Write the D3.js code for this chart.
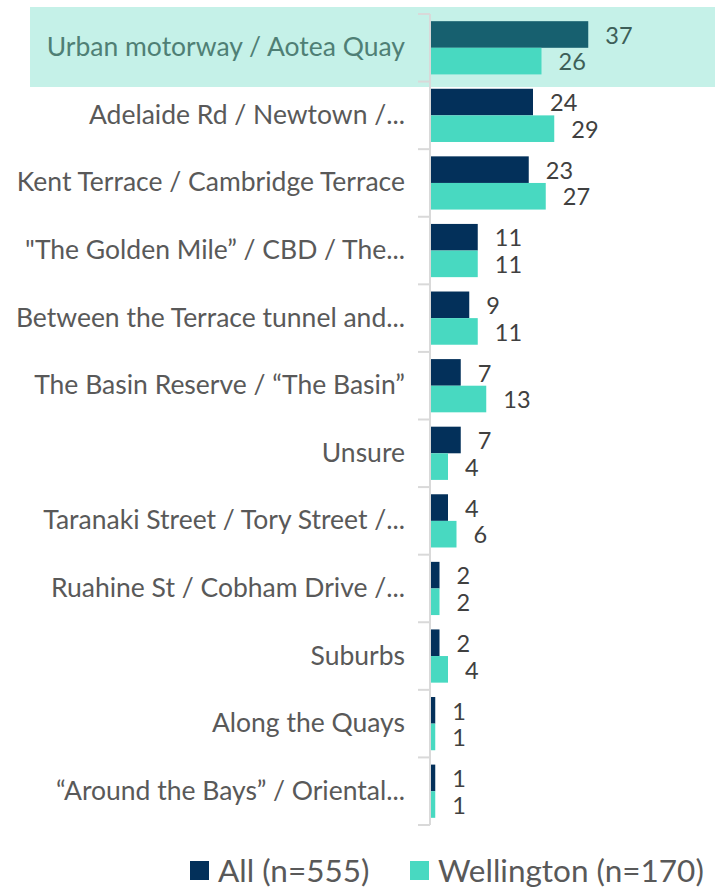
<!DOCTYPE html>
<html>
<head>
<meta charset="utf-8">
<script src="https://cdn.jsdelivr.net/npm/d3@7"></script>
<style>
  body { margin: 0; background: #fff; }
  svg { display: block; font-family: Lato, "Open Sans", sans-serif; }
</style>
</head>
<body>
<div id="chart"></div>
<script>
var width = 715;
var height = 888;

// categories, top to bottom
var categories = [
  "Urban motorway / Aotea Quay",
  "Adelaide Rd / Newtown /...",
  "Kent Terrace / Cambridge Terrace",
  "\"The Golden Mile\u201d / CBD / The...",
  "Between the Terrace tunnel and...",
  "The Basin Reserve / \u201cThe Basin\u201d",
  "Unsure",
  "Taranaki Street / Tory Street /...",
  "Ruahine St / Cobham Drive /...",
  "Suburbs",
  "Along the Quays",
  "\u201cAround the Bays\u201d / Oriental..."
];
var seriesNames = ["All (n=555)", "Wellington (n=170)"];
var allValues = [37, 24, 23, 11, 9, 7, 7, 4, 2, 2, 1, 1];
var wellingtonValues = [26, 29, 27, 11, 11, 13, 4, 6, 2, 4, 1, 1];
var highlighted = 0; // row with the mint box

var colors = ["#03305a", "#48d9c1"];

var svg = d3.select("#chart").append("svg")
  .attr("width", width)
  .attr("height", height);

var y = d3.scaleBand().domain(d3.range(categories.length)).range([14, 825]);
var ySub = d3.scaleBand().domain([0, 1]).range([0, y.bandwidth()]).paddingOuter(0.27);
var x = d3.scaleLinear().domain([0, 40]).range([431, 601]);

// highlight box behind first row
svg.append("rect")
  .attr("x", 30).attr("y", 7)
  .attr("width", width - 30).attr("height", 80)
  .attr("fill", "#c5f1e8");

var rows = categories.map(function(c, i){
  return {cat: c, i: i, vals: [allValues[i], wellingtonValues[i]]};
});

var g = svg.selectAll("g.row").data(rows).enter().append("g")
  .attr("class", "row")
  .attr("transform", d => "translate(0," + y(d.i) + ")");

g.selectAll("rect.bar").data(d => d.vals.map((v, s) => ({v: v, s: s, i: d.i})))
  .enter().append("rect")
  .attr("class", "bar")
  .attr("x", x(0))
  .attr("y", d => ySub(d.s))
  .attr("width", d => x(d.v) - x(0))
  .attr("height", ySub.bandwidth())
  .attr("fill", d => (d.i === highlighted && d.s === 0) ? "#17606f" : colors[d.s]);

g.selectAll("text.val").data(d => d.vals.map((v, s) => ({v: v, s: s, i: d.i})))
  .enter().append("text")
  .attr("class", "val")
  .attr("x", d => x(d.v) + 17)
  .attr("y", d => ySub(d.s) + ySub.bandwidth() / 2 + 1)
  .attr("dy", "0.35em")
  .attr("font-size", 23.5)
  .attr("fill", d => d.i === highlighted ? "#3d5f58" : "#404040")
  .text(d => d.v);

// category axis
var axis = d3.axisLeft(y).tickSize(0).tickFormat(i => categories[i]);
var ax = svg.append("g").attr("transform", "translate(430,0)").call(axis);
ax.select(".domain").remove();
ax.selectAll(".tick text")
  .attr("x", -25)
  .attr("font-size", 26.5)
  .attr("font-family", "Lato, 'Open Sans', sans-serif")
  .attr("fill", (d) => d === highlighted ? "#4f7f75" : "#595959");

svg.append("line")
  .attr("x1", 430).attr("x2", 430)
  .attr("y1", 14).attr("y2", 825)
  .attr("stroke", "#d9d9d9").attr("stroke-width", 2);

svg.selectAll("line.tick").data(d3.range(categories.length + 1)).enter()
  .append("line")
  .attr("class", "tick")
  .attr("x1", 418).attr("x2", 430)
  .attr("y1", i => 14 + i * y.step())
  .attr("y2", i => 14 + i * y.step())
  .attr("stroke", "#d9d9d9").attr("stroke-width", 2);

// legend
var legendX = [190, 410];
var lg = svg.selectAll("g.legend").data(seriesNames).enter().append("g")
  .attr("class", "legend")
  .attr("transform", (d, i) => "translate(" + legendX[i] + ",861)");
lg.append("rect").attr("width", 19).attr("height", 19).attr("fill", (d, i) => colors[i]);
lg.append("text")
  .attr("x", 28).attr("y", 10).attr("dy", "0.36em")
  .attr("font-size", 31.5)
  .attr("fill", "#595959")
  .text(d => d);
</script>
</body>
</html>
